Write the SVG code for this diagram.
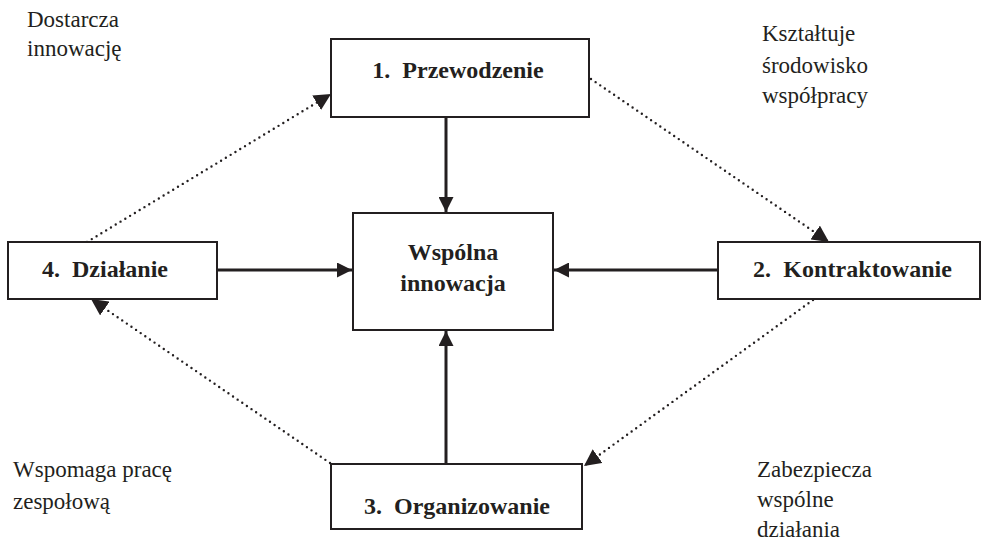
<svg xmlns="http://www.w3.org/2000/svg" width="987" height="545" viewBox="0 0 987 545">
<defs>
<style>
.box{fill:#fff;stroke:#231f20;stroke-width:2}
.bt{font-size:24px;font-weight:bold;fill:#231f20}
.lt{font-size:23px;fill:#231f20}
.solid{stroke:#231f20;stroke-width:3;fill:none}
.dot{stroke:#231f20;stroke-width:2.4;fill:none;stroke-dasharray:0 5.6;stroke-linecap:round}
</style>
<marker id="ah" viewBox="0 0 10 10" refX="10" refY="5" markerWidth="5" markerHeight="5" orient="auto" markerUnits="strokeWidth">
<path d="M0,0 L10,5 L0,10 z" fill="#231f20"/>
</marker>
<marker id="ahd" viewBox="0 0 10 10" refX="10" refY="5" markerWidth="7" markerHeight="7" orient="auto" markerUnits="strokeWidth">
<path d="M0,0 L10,5 L0,10 z" fill="#231f20"/>
</marker>
</defs>
<rect width="987" height="545" fill="#fff"/>
<g id="connectors">
<line class="solid" x1="446" y1="117" x2="446" y2="212" marker-end="url(#ah)"/>
<line class="solid" x1="217" y1="270" x2="352" y2="270" marker-end="url(#ah)"/>
<line class="solid" x1="718" y1="270" x2="554" y2="270" marker-end="url(#ah)"/>
<line class="solid" x1="446" y1="464" x2="446" y2="331" marker-end="url(#ah)"/>
<line class="dot" x1="87" y1="242" x2="331" y2="94" marker-end="url(#ahd)"/>
<line class="dot" x1="591" y1="79" x2="829" y2="242" marker-end="url(#ahd)"/>
<line class="dot" x1="813" y1="300" x2="584" y2="466" marker-end="url(#ahd)"/>
<line class="dot" x1="330" y1="463" x2="91" y2="299" marker-end="url(#ahd)"/>
</g>
<g font-family="Liberation Serif, Times New Roman, DejaVu Serif, serif">
<g id="node-przewodzenie">
<rect class="box" x="331" y="39" width="258" height="78"/>
<text class="bt" x="458" y="78" text-anchor="middle" xml:space="preserve">1.  Przewodzenie</text>
</g>
<g id="node-wspolna">
<rect class="box" x="353" y="213" width="200" height="117"/>
<text class="bt" x="453" y="260" text-anchor="middle">Wspólna</text>
<text class="bt" x="453" y="291" text-anchor="middle">innowacja</text>
</g>
<g id="node-dzialanie">
<rect class="box" x="8" y="242" width="209" height="57"/>
<text class="bt" x="42" y="277" xml:space="preserve">4.  Działanie</text>
</g>
<g id="node-kontraktowanie">
<rect class="box" x="718" y="242" width="262" height="57"/>
<text class="bt" x="753" y="277" xml:space="preserve" textLength="199">2.  Kontraktowanie</text>
</g>
<g id="node-organizowanie">
<rect class="box" x="331" y="464" width="251" height="65"/>
<text class="bt" x="457" y="514" text-anchor="middle" xml:space="preserve">3.  Organizowanie</text>
</g>
<g id="labels">
<text class="lt" x="27" y="27">Dostarcza</text>
<text class="lt" x="27" y="56">innowację</text>
<text class="lt" x="762" y="41">Kształtuje</text>
<text class="lt" x="762" y="73">środowisko</text>
<text class="lt" x="762" y="103">współpracy</text>
<text class="lt" x="13" y="477">Wspomaga pracę</text>
<text class="lt" x="13" y="509">zespołową</text>
<text class="lt" x="757" y="477">Zabezpiecza</text>
<text class="lt" x="757" y="507">wspólne</text>
<text class="lt" x="757" y="537">działania</text>
</g>
</g>
</svg>
